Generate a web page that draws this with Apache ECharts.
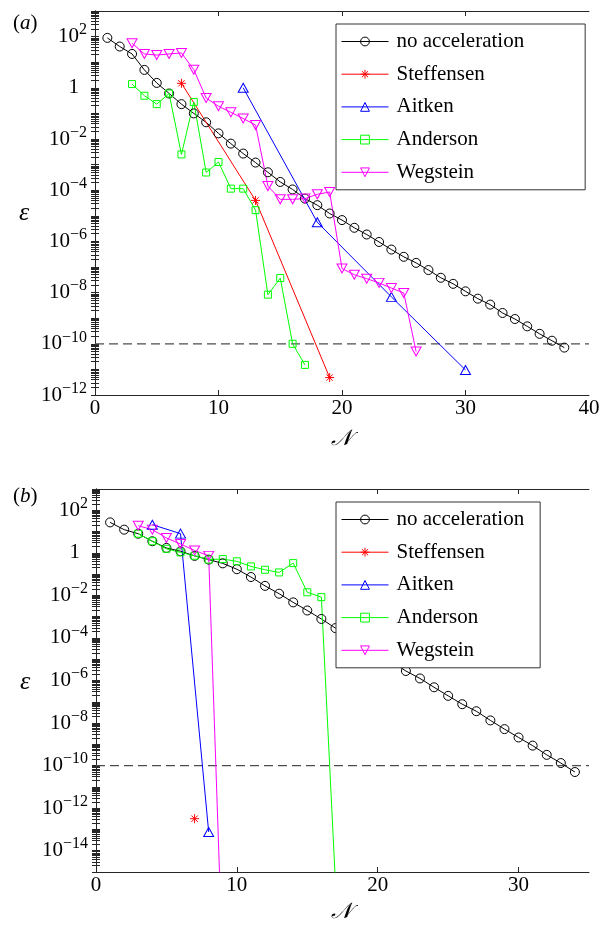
<!DOCTYPE html>
<html>
<head>
<meta charset="utf-8">
<script src="https://cdn.jsdelivr.net/npm/echarts@6/dist/echarts.min.js"></script>
<style>
  html, body { margin: 0; padding: 0; background: #fff; }
  #chart { width: 603px; height: 928px; }
</style>
</head>
<body>
<div id="chart"></div>
<script>
// ---------- Panel (a): error ε against iteration count N ----------
const aNoneStart = 1;
const aNoneErr = [89, 41, 21, 5.0, 1.55, 0.60, 0.23, 0.10, 0.045, 0.0166,
  6.6e-3, 2.7e-3, 1.2e-3, 5.0e-4, 2.1e-4, 1.07e-4, 4.7e-5, 2.6e-5, 1.23e-5, 6.8e-6,
  3.4e-6, 1.86e-6, 9.5e-7, 4.8e-7, 2.5e-7, 1.45e-7, 7.6e-8, 3.8e-8, 2.2e-8, 1.12e-8,
  5.8e-9, 3.4e-9, 1.6e-9, 9.3e-10, 4.8e-10, 2.45e-10, 1.32e-10, 7.1e-11];
const aSteffIter = [7, 13, 19];
const aSteffErr = [1.5, 4.0e-5, 4.8e-12];
const aAitkenIter = [12, 18, 24, 30];
const aAitkenErr = [1.0, 5.6e-6, 6.8e-9, 9.5e-12];
const aAndersonStart = 3;
const aAndersonErr = [1.4, 0.49, 0.23, 0.6, 2.5e-3, 0.28, 4.9e-4, 1.26e-3, 1.15e-4,
  1.15e-4, 1.66e-5, 8.3e-9, 3.7e-8, 1.0e-10, 1.5e-11];
const aWegsteinStart = 3;
const aWegsteinErr = [55, 21, 19, 21, 23, 5.1, 0.40, 0.19, 0.11, 0.063, 0.035,
  1.45e-4, 4.4e-5, 4.4e-5, 4.7e-5, 6.9e-5, 8.5e-5, 8.7e-8, 5.0e-8, 3.5e-8, 2.4e-8,
  1.5e-8, 9.7e-9, 5.0e-11];

// ---------- Panel (b) ----------
const bNoneStart = 1;
const bNoneErr = [27, 12.3, 7.9, 3.5, 1.7, 1.19, 0.72, 0.48, 0.32, 0.17,
  0.073, 0.028, 0.012, 4.7e-3, 1.95e-3, 7.8e-4, 2.9e-4, 1.2e-4, 4.7e-5, 1.9e-5,
  7.4e-6, 2.8e-6, 1.25e-6, 4.8e-7, 1.9e-7, 7.7e-8, 3.6e-8, 1.33e-8, 5.2e-9, 2.1e-9,
  8.7e-10, 3.2e-10, 1.32e-10, 5.0e-11];
const bSteffIter = [7];
const bSteffErr = [3.2e-13];
const bAitkenIter = [4, 6, 8];
const bAitkenErr = [21, 8, 7.6e-14];
const bAndersonStart = 3;
const bAndersonErr = [7.9, 3.5, 1.55, 1.05, 0.73, 0.48, 0.51, 0.40, 0.23, 0.16,
  0.12, 0.33, 0.014, 8.3e-3, 3e-16];
const bWegsteinStart = 3;
const bWegsteinErr = [18.8, 12.3, 5.0, 2.6, 1.3, 0.72, 3e-20];

// Convergence tolerance drawn as a dashed reference line
const tolerance = 1e-10;

// Axis limits, ticks and labels
const xMaxA = 40;
const xMaxB = 35;
const xLabelsA = [0, 10, 20, 30, 40];
const xLabelsB = [0, 10, 20, 30];
const xTickMarks = [10, 20, 30];
const yLabelsA = [1e-12, 1e-10, 1e-8, 1e-6, 1e-4, 1e-2, 1, 1e2];
const yLabelsB = [1e-14, 1e-12, 1e-10, 1e-8, 1e-6, 1e-4, 1e-2, 1, 1e2];

const SERIF = 'Liberation Serif';
const FRAME = '#262626';
const STAR = 'path://M5 0L5 10M0 5L10 5M1.5 1.5L8.5 8.5M8.5 1.5L1.5 8.5';

const methods = [
  { name: 'no acceleration', color: '#000000', symbol: 'circle', size: 9 },
  { name: 'Steffensen', color: '#ff0000', symbol: STAR, size: 9 },
  { name: 'Aitken', color: '#0000ff', symbol: 'triangle', size: [10, 9] },
  { name: 'Anderson', color: '#00ff00', symbol: 'rect', size: 7 },
  { name: 'Wegstein', color: '#ff00ff', symbol: 'triangle', size: [10, 9], rotate: 180 }
];

const fromStart = (start, vals) => vals.map((v, i) => [start + i, v]);
const fromIters = (iters, vals) => vals.map((v, i) => [iters[i], v]);

// log-axis tick marks: every 1..9 × 10^k between the axis limits
function logTicks(lo, hi) {
  const out = [];
  for (let e = lo; e < hi; e++) {
    for (let m = 1; m <= 9; m++) out.push(m * Math.pow(10, e));
  }
  out.push(Math.pow(10, hi));
  return out;
}

function expLabel(v) {
  const e = Math.round(Math.log10(v));
  if (e === 0) return '{one|1}';
  return '{b|10}{s|' + (e < 0 ? '\u2212' + (-e) : String(e)) + '}';
}

const yRich = {
  b: { fontFamily: SERIF, fontSize: 21, lineHeight: 29, color: '#000' },
  s: { fontFamily: SERIF, fontSize: 16, lineHeight: 16, verticalAlign: 'top', padding: [0, 0, 13, 0], color: '#000' },
  one: { fontFamily: SERIF, fontSize: 21, lineHeight: 21, padding: [0, 8, 0, 0], color: '#000' }
};

function xAxes(gridIndex, max, labels) {
  const line = { show: true, lineStyle: { color: FRAME, width: 1 } };
  const tick = { show: true, inside: true, length: 5, customValues: xTickMarks, lineStyle: { color: FRAME, width: 1 } };
  return [
    { gridIndex, type: 'value', min: 0, max, position: 'bottom',
      axisLine: line, axisTick: tick, splitLine: { show: false },
      axisLabel: { show: true, customValues: labels, margin: 3, fontFamily: SERIF, fontSize: 21, color: '#000' } },
    { gridIndex, type: 'value', min: 0, max, position: 'top',
      axisLine: line, axisTick: tick, splitLine: { show: false }, axisLabel: { show: false } }
  ];
}

function yAxes(gridIndex, loExp, hiExp, labels) {
  const line = { show: true, lineStyle: { color: FRAME, width: 1 } };
  const tick = { show: true, inside: true, length: 4, customValues: logTicks(loExp, hiExp), lineStyle: { color: FRAME, width: 1 } };
  const min = Math.pow(10, loExp), max = Math.pow(10, hiExp);
  return [
    { gridIndex, type: 'log', logBase: 10, min, max, position: 'left',
      axisLine: line, axisTick: tick, splitLine: { show: false }, minorTick: { show: false },
      axisLabel: { show: true, customValues: labels, margin: 8, formatter: expLabel, rich: yRich } },
    { gridIndex, type: 'log', logBase: 10, min, max, position: 'right',
      axisLine: line, axisTick: tick, splitLine: { show: false }, minorTick: { show: false },
      axisLabel: { show: false } }
  ];
}

function lineSeries(method, data, xi, yi) {
  return {
    name: method.name, type: 'line', data,
    xAxisIndex: xi, yAxisIndex: yi,
    symbol: method.symbol, symbolSize: method.size, symbolRotate: method.rotate || 0,
    showAllSymbol: true, clip: true,
    lineStyle: { color: method.color, width: 1 },
    itemStyle: { color: 'rgba(0,0,0,0)', borderColor: method.color, borderWidth: 1 },
    emphasis: { disabled: true },
    animation: false
  };
}

// dashed horizontal line at the tolerance, spanning the whole x range
function toleranceSeries(xi, yi, xMax) {
  return {
    name: 'tolerance', type: 'line',
    xAxisIndex: xi, yAxisIndex: yi,
    data: [[0, tolerance], [xMax, tolerance]],
    symbol: 'none', silent: true, z: 1,
    lineStyle: { type: [9, 5], color: '#4d4d4d', width: 1.2 },
    emphasis: { disabled: true },
    animation: false
  };
}

const panelA = [
  fromStart(aNoneStart, aNoneErr),
  fromIters(aSteffIter, aSteffErr),
  fromIters(aAitkenIter, aAitkenErr),
  fromStart(aAndersonStart, aAndersonErr),
  fromStart(aWegsteinStart, aWegsteinErr)
];
const panelB = [
  fromStart(bNoneStart, bNoneErr),
  fromIters(bSteffIter, bSteffErr),
  fromIters(bAitkenIter, bAitkenErr),
  fromStart(bAndersonStart, bAndersonErr),
  fromStart(bWegsteinStart, bWegsteinErr)
];

const series = [toleranceSeries(0, 0, xMaxA), toleranceSeries(2, 2, xMaxB)];
methods.forEach((m, i) => series.push(lineSeries(m, panelA[i], 0, 0)));
methods.forEach((m, i) => series.push(lineSeries(m, panelB[i], 2, 2)));

function legendBox(top, padRight) {
  return {
    data: methods.map(m => m.name),
    orient: 'vertical', left: 336, top,
    padding: [7, padRight, 7, 5],
    itemWidth: 47, itemHeight: 11, itemGap: 11.7,
    backgroundColor: '#fff', borderColor: '#333', borderWidth: 1,
    selectedMode: false,
    itemStyle: { borderWidth: 1 },
    lineStyle: { width: 1 },
    textStyle: { fontFamily: SERIF, fontSize: 21, lineHeight: 21, color: '#000', padding: [0, 0, 0, 3] }
  };
}

function panelTag(letter, y) {
  return {
    type: 'text', x: 13, y,
    style: {
      text: '{n|(}{i|' + letter + '}{n|)}',
      verticalAlign: 'middle', textVerticalAlign: 'middle',
      rich: {
        n: { fontFamily: SERIF, fontSize: 21, fill: '#000' },
        i: { fontFamily: SERIF, fontStyle: 'italic', fontSize: 21, fill: '#000' }
      }
    }
  };
}

function axisSymbol(text, x, y, size) {
  return {
    type: 'text', x, y,
    style: {
      text, font: 'italic ' + size + 'px ' + SERIF, fill: '#000',
      align: 'center', verticalAlign: 'middle', textAlign: 'center', textVerticalAlign: 'middle'
    }
  };
}

const option = {
  backgroundColor: '#fff',
  animation: false,
  textStyle: { fontFamily: SERIF },
  grid: [
    { left: 95, right: 14, top: 11, height: 384 },
    { left: 96, right: 14, top: 489, height: 383 }
  ],
  xAxis: [...xAxes(0, xMaxA, xLabelsA), ...xAxes(1, xMaxB, xLabelsB)],
  yAxis: [...yAxes(0, -12, 3, yLabelsA), ...yAxes(1, -15, 3, yLabelsB)],
  legend: [legendBox(24, 61), legendBox(502, 16)],
  graphic: [
    panelTag('a', 23),
    panelTag('b', 496),
    axisSymbol('\u03b5', 24, 213, 26),
    axisSymbol('\u03b5', 25, 682, 26),
    axisSymbol('\ud835\udca9', 341, 439, 22),
    axisSymbol('\ud835\udca9', 341, 912, 22)
  ],
  series
};

const chart = echarts.init(document.getElementById('chart'), null, { renderer: 'canvas' });
chart.setOption(option);
</script>
</body>
</html>
